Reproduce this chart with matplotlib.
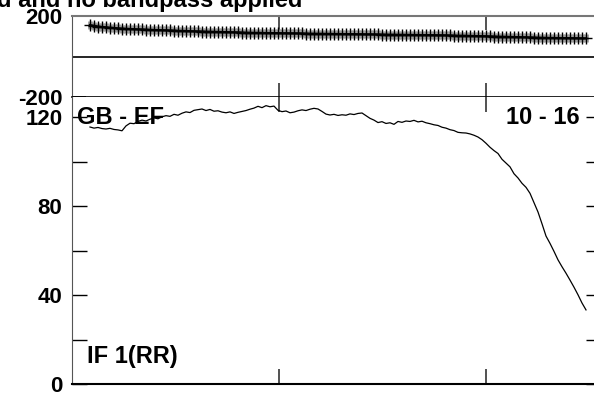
import numpy as np
import matplotlib.pyplot as plt

plt.rcParams['font.family'] = ['Liberation Sans', 'DejaVu Sans']
plt.rcParams['font.weight'] = 'bold'

# ====== data ======
# amplitude per channel (IF 1, RR)
amp = [115.5, 115.0, 115.3, 114.8, 114.6, 114.9, 114.4, 114.2, 113.8, 116.0,
       117.2, 117.0, 118.0, 118.6, 118.2, 119.0, 119.6, 119.2, 120.1, 120.6,
       120.3, 121.2, 120.8, 121.7, 122.3, 122.0, 123.0, 123.3, 123.6, 122.9,
       123.4, 122.6, 122.8, 122.2, 121.9, 122.3, 121.6, 122.1, 122.5, 122.9,
       123.5, 124.0, 124.8, 124.2, 125.1, 124.6, 124.9, 123.0, 122.4, 122.7,
       121.9, 122.2, 122.8, 123.2, 122.9, 123.5, 123.9, 123.6, 122.5, 121.3,
       120.9, 121.2, 120.7, 121.0, 120.8, 121.4, 121.1, 121.6, 121.8, 120.6,
       119.4, 118.6, 117.5, 117.9, 117.1, 117.4, 116.7, 118.0, 117.6, 118.2,
       118.0, 118.5, 117.8, 118.1, 117.4, 117.0, 116.5, 116.2, 115.4, 115.0,
       114.3, 113.9, 113.1, 112.9, 112.8, 112.4, 111.8, 111.0, 109.8, 108.2,
       106.4, 104.9, 103.6, 101.0, 99.3, 97.6, 94.5, 92.6, 90.2, 88.4,
       85.7, 81.5, 77.3, 72.0, 66.5, 63.2, 59.6, 55.8, 52.7, 49.8,
       46.7, 43.5, 40.1, 36.4, 33.3]

# phase per channel (degrees)
phase = [154, 150, 147, 145, 143, 141, 140, 138, 137, 136,
         135, 134, 133, 132.5, 131.5, 131, 130, 129.5, 129, 128,
         127.5, 127, 126, 125.5, 125, 124, 123.5, 123, 122.5, 122,
         121.5, 121, 120.5, 120, 119.5, 119, 118.5, 118, 117.5, 117,
         116.5, 116, 116, 115.5, 115, 115, 114.5, 114.5, 114, 114,
         113.5, 113.5, 113, 113, 112.5, 112, 112, 111.5, 111.5, 111,
         111, 110.5, 110.5, 110, 110, 109.5, 109.5, 109, 109, 108.5,
         108.5, 108, 108, 107.5, 107.5, 107, 107, 106.5, 106.5, 106,
         106, 105.5, 105.5, 105, 105, 104.5, 104.5, 104, 104, 103.5,
         103, 102.5, 102, 102, 101.5, 101, 100.5, 100, 99.5, 99,
         98.5, 98, 97.5, 97, 96.5, 96, 95.5, 95, 94.5, 94,
         93.5, 93, 92.5, 92, 91.5, 91, 91, 90.5, 90.5, 90,
         90, 89.5, 89.5, 89, 89]

chan = np.arange(len(amp))

title = "d and no bandpass applied"
baseline = "GB - EF"
scan = "10 - 16"
if_label = "IF 1(RR)"

amp_ticks = [0, 20, 40, 60, 80, 100, 120]
amp_ticklabels = ["0", "", "40", "", "80", "", "120"]
phase_ticks = [-200, 200]
chan_ticks = [47.25, 99]

# ====== figure ======
W, H = 594, 394
fig = plt.figure(figsize=(W / 100, H / 100), dpi=100)

left, right = 72, 601
top_y0, top_y1 = 15.7, 97.3
bot_y1 = 384

ax_top = fig.add_axes([left / W, 1 - top_y1 / H, (right - left) / W,
                       (top_y1 - top_y0) / H])
ax_bot = fig.add_axes([left / W, 1 - bot_y1 / H, (right - left) / W,
                       (bot_y1 - top_y1) / H])

xlim = (-4.5, 127.75)

# phase panel
ax_top.plot(chan, phase, ls="none", marker="|", ms=6, mew=3.5,
            color="#a0a0a0", zorder=2)
ax_top.plot(chan, phase, color="black", lw=1.6, marker="+", ms=8,
            mew=1.0, zorder=3)
ax_top.axhline(0, color="black", lw=1.2)
ax_top.set_xlim(*xlim)
ax_top.set_ylim(-200, 200)
ax_top.set_yticks(phase_ticks)
ax_top.set_yticklabels([str(v) for v in phase_ticks])
ax_top.set_xticks(chan_ticks)
ax_top.set_xticklabels([])
ax_top.tick_params(axis="x", direction="in", top=True, bottom=True,
                   length=10, width=1.2, color="#333333")
ax_top.tick_params(axis="y", direction="in", left=True, right=False,
                   length=10, width=1.2, pad=7, labelsize=16)
ax_top.spines["top"].set_color("#777777")
ax_top.spines["top"].set_linewidth(1.5)
ax_top.spines["left"].set_color("#555555")
ax_top.spines["bottom"].set_color("black")
ax_top.spines["bottom"].set_linewidth(1.2)
ax_top.spines["right"].set_visible(False)
for lab in ax_top.get_yticklabels():
    lab.set_fontweight("bold")

# amplitude panel
ax_bot.plot(chan, amp, color="black", lw=0.9)
ax_bot.set_xlim(*xlim)
ax_bot.set_ylim(0, (bot_y1 - top_y1) / 2.225)
ax_bot.set_yticks(amp_ticks)
ax_bot.set_yticklabels(amp_ticklabels)
ax_bot.set_xticks(chan_ticks)
ax_bot.set_xticklabels([])
ax_bot.tick_params(axis="x", direction="in", top=True, bottom=True,
                   length=11, width=1.2, color="#333333")
ax_bot.tick_params(axis="y", direction="in", left=True, right=True,
                   length=11, width=1.0, pad=7, labelsize=16)
ax_bot.spines["top"].set_visible(False)
ax_bot.spines["right"].set_visible(False)
ax_bot.spines["left"].set_color("#555555")
ax_bot.spines["bottom"].set_color("black")
ax_bot.spines["bottom"].set_linewidth(1.5)
for lab in ax_bot.get_yticklabels():
    lab.set_fontweight("bold")

# annotations
fig.text(77 / W, 1 - 117 / H, baseline, fontsize=17, fontweight="bold",
         ha="left", va="center")
fig.text(580 / W, 1 - 117 / H, scan, fontsize=17, fontweight="bold",
         ha="right", va="center")
fig.text(87 / W, 1 - 357 / H, if_label, fontsize=17, fontweight="bold",
         ha="left", va="center")
fig.text(302 / W, 1 - 7 / H, title, fontsize=17, fontweight="bold",
         ha="right", va="baseline")

fig.savefig("out.png", dpi=100)
